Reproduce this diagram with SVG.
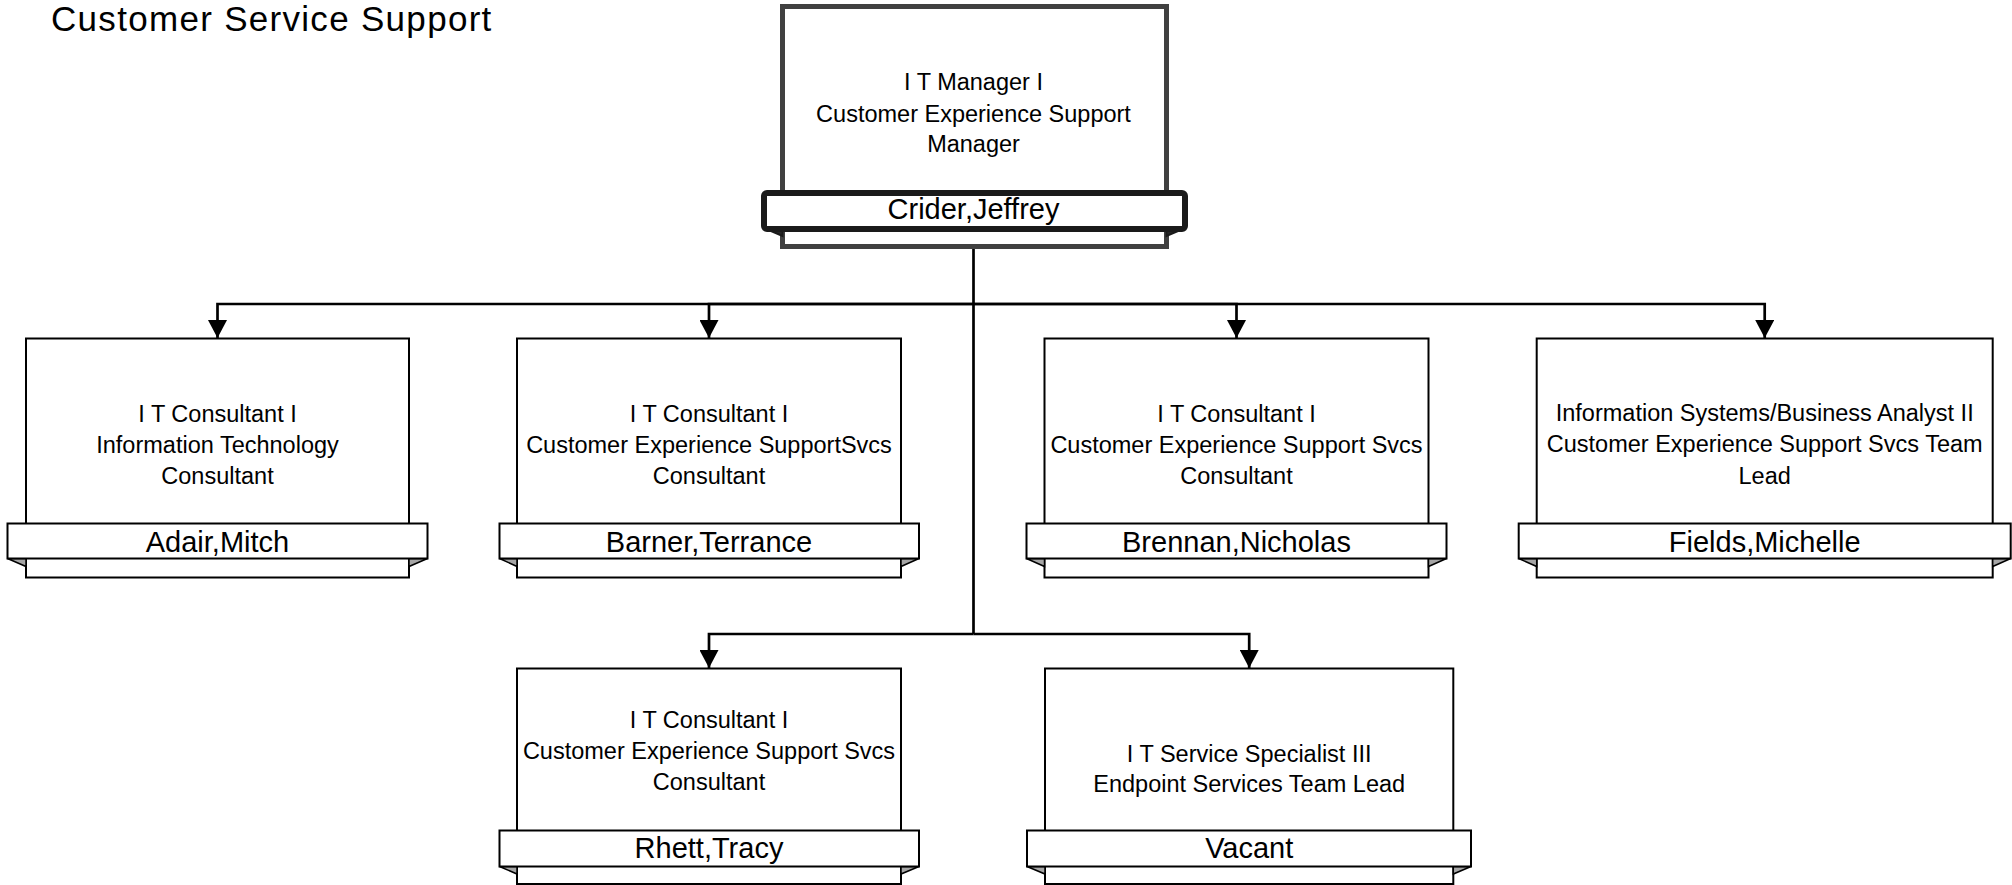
<svg xmlns="http://www.w3.org/2000/svg" width="2012" height="885" viewBox="0 0 2012 885">
<style>
text{font-family:"Liberation Sans",Arial,sans-serif;fill:#000;text-anchor:middle}
.title{font-size:35px;text-anchor:start;letter-spacing:1.3px}
.role{font-size:23.5px}
.name{font-size:29px}
.box{fill:#fff;stroke:#000;stroke-width:2}
.ban{fill:#fff;stroke:#000;stroke-width:2}
.fold{fill:#a6a6a6;stroke:#000;stroke-width:1.5;stroke-linejoin:miter}
.mbox{fill:#fff;stroke:#404040;stroke-width:5}
.mban{fill:#fff;stroke:#1a1a1a;stroke-width:6}
.mfold{fill:#262626;stroke:#1a1a1a;stroke-width:2}
.conn{fill:none;stroke:#000;stroke-width:2.7}
</style>
<defs>
<marker id="arr" viewBox="0 0 18 19" refX="18" refY="9.5" markerWidth="18" markerHeight="19" markerUnits="userSpaceOnUse" orient="auto">
<path d="M0,0 L18,9.5 L0,19 Z" fill="#000"/>
</marker>
</defs>
<rect width="2012" height="885" fill="#fff"/>
<text class="title" x="51" y="31">Customer Service Support</text>

<g id="connectors">
<path class="conn" d="M973.5,248 V634"/>
<path class="conn" d="M973.5,304 H217.5 V338" marker-end="url(#arr)"/>
<path class="conn" d="M973.5,304 H709 V338" marker-end="url(#arr)"/>
<path class="conn" d="M973.5,304 H1236.5 V338" marker-end="url(#arr)"/>
<path class="conn" d="M973.5,304 H1764.7 V338" marker-end="url(#arr)"/>
<path class="conn" d="M973.5,634 H709 V668" marker-end="url(#arr)"/>
<path class="conn" d="M973.5,634 H1249.2 V668" marker-end="url(#arr)"/>
</g>

<g id="node-crider">
<rect class="mbox" x="782.5" y="6.5" width="384" height="240"/>
<polygon class="mfold" points="764,228 782.5,228 782.5,236"/>
<polygon class="mfold" points="1185,228 1166.5,228 1166.5,236"/>
<rect class="mban" x="764" y="193" width="421" height="36" rx="3"/>
<text class="role" x="973.5" y="90">I T Manager I</text>
<text class="role" x="973.5" y="121.5">Customer Experience Support</text>
<text class="role" x="973.5" y="152">Manager</text>
<text class="name" x="973.5" y="219">Crider,Jeffrey</text>
</g>

<g id="node-adair">
<rect class="box" x="26" y="338.5" width="383" height="239"/>
<polygon class="fold" points="7.5,558.5 26,558.5 26,566.5"/>
<polygon class="fold" points="427.5,558.5 409,558.5 409,566.5"/>
<rect class="ban" x="7.5" y="523.5" width="420" height="35"/>
<text class="role" x="217.5" y="421.5">I T Consultant I</text>
<text class="role" x="217.5" y="453">Information Technology</text>
<text class="role" x="217.5" y="484">Consultant</text>
<text class="name" x="217.5" y="551.5">Adair,Mitch</text>
</g>

<g id="node-barner">
<rect class="box" x="517" y="338.5" width="384" height="239"/>
<polygon class="fold" points="499.5,558.5 517,558.5 517,566.5"/>
<polygon class="fold" points="919,558.5 901,558.5 901,566.5"/>
<rect class="ban" x="499.5" y="523.5" width="419.5" height="35"/>
<text class="role" x="709" y="421.5">I T Consultant I</text>
<text class="role" x="709" y="453">Customer Experience SupportSvcs</text>
<text class="role" x="709" y="484">Consultant</text>
<text class="name" x="709" y="551.5">Barner,Terrance</text>
</g>

<g id="node-brennan">
<rect class="box" x="1044.5" y="338.5" width="384" height="239"/>
<polygon class="fold" points="1026.5,558.5 1044.5,558.5 1044.5,566.5"/>
<polygon class="fold" points="1446.5,558.5 1428.5,558.5 1428.5,566.5"/>
<rect class="ban" x="1026.5" y="523.5" width="420" height="35"/>
<text class="role" x="1236.5" y="421.5">I T Consultant I</text>
<text class="role" x="1236.5" y="453">Customer Experience Support Svcs</text>
<text class="role" x="1236.5" y="484">Consultant</text>
<text class="name" x="1236.5" y="551.5">Brennan,Nicholas</text>
</g>

<g id="node-fields">
<rect class="box" x="1536.7" y="338.5" width="456" height="239"/>
<polygon class="fold" points="1518.7,558.5 1536.7,558.5 1536.7,566.5"/>
<polygon class="fold" points="2010.7,558.5 1992.7,558.5 1992.7,566.5"/>
<rect class="ban" x="1518.7" y="523.5" width="492" height="35"/>
<text class="role" x="1764.7" y="420.5">Information Systems/Business Analyst II</text>
<text class="role" x="1764.7" y="452">Customer Experience Support Svcs Team</text>
<text class="role" x="1764.7" y="483.5">Lead</text>
<text class="name" x="1764.7" y="551.5">Fields,Michelle</text>
</g>

<g id="node-rhett">
<rect class="box" x="517" y="668.5" width="384" height="215.5"/>
<polygon class="fold" points="499.5,866.5 517,866.5 517,874"/>
<polygon class="fold" points="919,866.5 901,866.5 901,874"/>
<rect class="ban" x="499.5" y="830.5" width="419.5" height="36"/>
<text class="role" x="709" y="728">I T Consultant I</text>
<text class="role" x="709" y="759">Customer Experience Support Svcs</text>
<text class="role" x="709" y="790">Consultant</text>
<text class="name" x="709" y="858">Rhett,Tracy</text>
</g>

<g id="node-vacant">
<rect class="box" x="1045" y="668.5" width="408.3" height="215.5"/>
<polygon class="fold" points="1027,866.5 1045,866.5 1045,874"/>
<polygon class="fold" points="1471,866.5 1453.3,866.5 1453.3,874"/>
<rect class="ban" x="1027" y="830.5" width="444" height="36"/>
<text class="role" x="1249.2" y="761.5">I T Service Specialist III</text>
<text class="role" x="1249.2" y="792">Endpoint Services Team Lead</text>
<text class="name" x="1249.2" y="858">Vacant</text>
</g>
</svg>
